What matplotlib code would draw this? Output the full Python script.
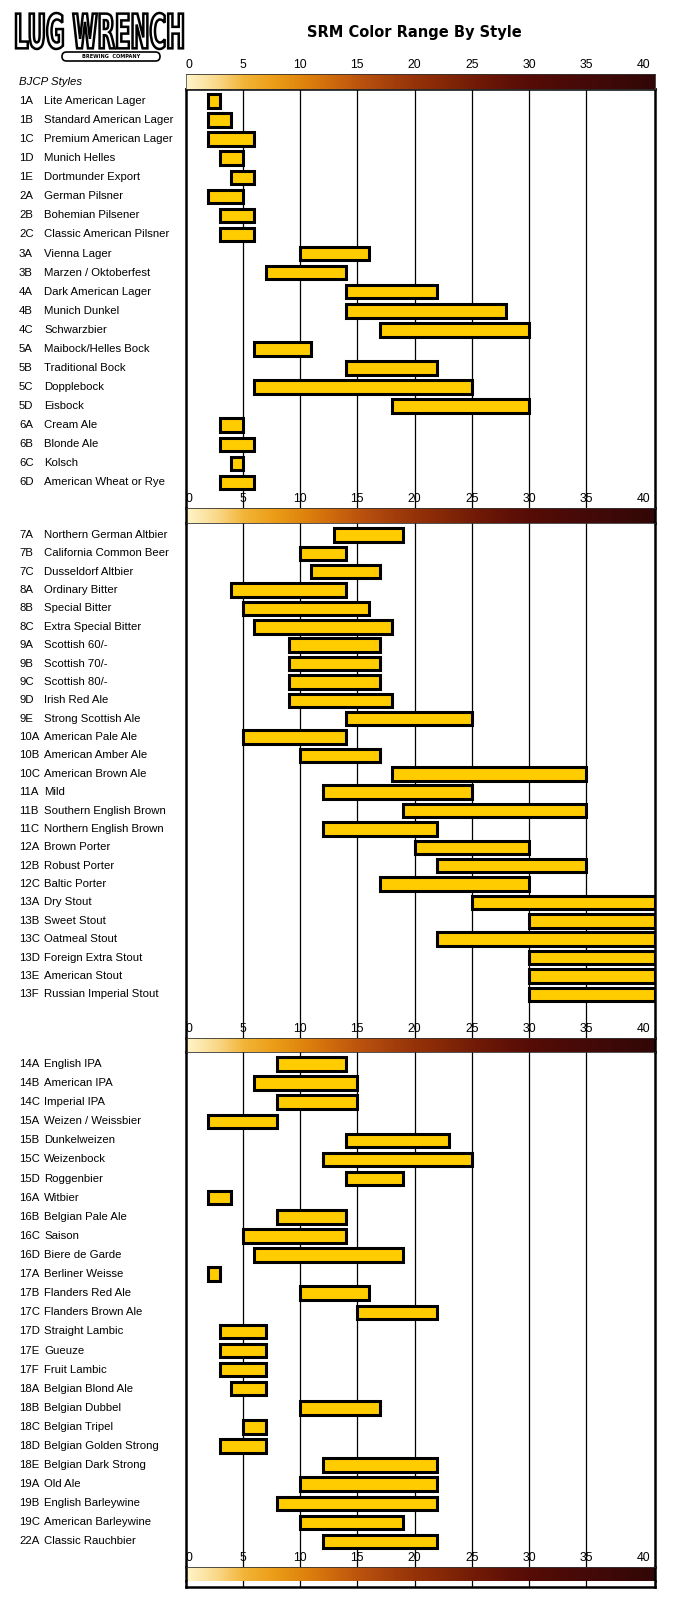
import numpy as np
import matplotlib
matplotlib.use("Agg")
import matplotlib.pyplot as plt
from matplotlib import font_manager
from matplotlib.colors import LinearSegmentedColormap
from matplotlib.textpath import TextPath
from matplotlib.patches import PathPatch, FancyBboxPatch
from matplotlib.font_manager import FontProperties
import matplotlib.transforms as mtransforms

# ---- data: BJCP style codes, names and SRM ranges, one block per panel ----
codes1 = ["1A", "1B", "1C", "1D", "1E", "2A", "2B", "2C", "3A", "3B", "4A",
          "4B", "4C", "5A", "5B", "5C", "5D", "6A", "6B", "6C", "6D"]
names1 = ["Lite American Lager", "Standard American Lager", "Premium American Lager",
          "Munich Helles", "Dortmunder Export", "German Pilsner", "Bohemian Pilsener",
          "Classic American Pilsner", "Vienna Lager", "Marzen / Oktoberfest",
          "Dark American Lager", "Munich Dunkel", "Schwarzbier", "Maibock/Helles Bock",
          "Traditional Bock", "Dopplebock", "Eisbock", "Cream Ale", "Blonde Ale",
          "Kolsch", "American Wheat or Rye"]
low1 = [2, 2, 2, 3, 4, 2, 3, 3, 10, 7, 14, 14, 17, 6, 14, 6, 18, 3, 3, 4, 3]
high1 = [3, 4, 6, 5, 6, 5, 6, 6, 16, 14, 22, 28, 30, 11, 22, 25, 30, 5, 6, 5, 6]

codes2 = ["7A", "7B", "7C", "8A", "8B", "8C", "9A", "9B", "9C", "9D", "9E",
          "10A", "10B", "10C", "11A", "11B", "11C", "12A", "12B", "12C",
          "13A", "13B", "13C", "13D", "13E", "13F"]
names2 = ["Northern German Altbier", "California Common Beer", "Dusseldorf Altbier",
          "Ordinary Bitter", "Special Bitter", "Extra Special Bitter", "Scottish 60/-",
          "Scottish 70/-", "Scottish 80/-", "Irish Red Ale", "Strong Scottish Ale",
          "American Pale Ale", "American Amber Ale", "American Brown Ale", "Mild",
          "Southern English Brown", "Northern English Brown", "Brown Porter",
          "Robust Porter", "Baltic Porter", "Dry Stout", "Sweet Stout", "Oatmeal Stout",
          "Foreign Extra Stout", "American Stout", "Russian Imperial Stout"]
low2 = [13, 10, 11, 4, 5, 6, 9, 9, 9, 9, 14, 5, 10, 18, 12, 19, 12, 20, 22, 17,
        25, 30, 22, 30, 30, 30]
high2 = [19, 14, 17, 14, 16, 18, 17, 17, 17, 18, 25, 14, 17, 35, 25, 35, 22, 30, 35, 30,
         41, 41, 41, 41, 41, 41]

codes3 = ["14A", "14B", "14C", "15A", "15B", "15C", "15D", "16A", "16B", "16C", "16D",
          "17A", "17B", "17C", "17D", "17E", "17F", "18A", "18B", "18C", "18D", "18E",
          "19A", "19B", "19C", "22A"]
names3 = ["English IPA", "American IPA", "Imperial IPA", "Weizen / Weissbier",
          "Dunkelweizen", "Weizenbock", "Roggenbier", "Witbier", "Belgian Pale Ale",
          "Saison", "Biere de Garde", "Berliner Weisse", "Flanders Red Ale",
          "Flanders Brown Ale", "Straight Lambic", "Gueuze", "Fruit Lambic",
          "Belgian Blond Ale", "Belgian Dubbel", "Belgian Tripel", "Belgian Golden Strong",
          "Belgian Dark Strong", "Old Ale", "English Barleywine", "American Barleywine",
          "Classic Rauchbier"]
low3 = [8, 6, 8, 2, 14, 12, 14, 2, 8, 5, 6, 2, 10, 15, 3, 3, 3, 4, 10, 5, 3, 12,
        10, 8, 10, 12]
high3 = [14, 15, 15, 8, 23, 25, 19, 4, 14, 14, 19, 3, 16, 22, 7, 7, 7, 7, 17, 7, 7, 22,
         22, 22, 19, 22]

srm_ticks = [0, 5, 10, 15, 20, 25, 30, 35, 40]

# ---- layout (pixels) ----
W, H = 677, 1600
X_LEFT, X_RIGHT = 185.5, 655.0
SRM_MAX = 41
BAR_COLOR = "#FFCC00"

installed = {f.name for f in font_manager.fontManager.ttflist}
NARROW = "Liberation Sans Narrow" if "Liberation Sans Narrow" in installed else "Liberation Sans"
LABEL_FONT = "Liberation Sans"

srm_cmap = LinearSegmentedColormap.from_list("srm", [
    (0 / 41, "#FFF4C8"), (2.5 / 41, "#FADA8C"), (5 / 41, "#F2B438"),
    (7.5 / 41, "#EC9E18"), (10 / 41, "#E0860E"), (12.5 / 41, "#D06C0C"),
    (15 / 41, "#BC540E"), (17.5 / 41, "#A8420C"), (20 / 41, "#953208"),
    (22.5 / 41, "#852806"), (25 / 41, "#731C06"), (27.5 / 41, "#641306"),
    (30 / 41, "#560C06"), (35 / 41, "#440A08"), (41 / 41, "#320707")])


def rect(x0, y0, x1, y1):
    return [x0 / W, 1 - y1 / H, (x1 - x0) / W, (y1 - y0) / H]


fig = plt.figure(figsize=(W / 100, H / 100), dpi=100)


def gradient(top, bottom, first=False):
    ax = fig.add_axes(rect(X_LEFT, top, X_RIGHT, bottom))
    ax.imshow(np.linspace(0, 1, 400)[None, :], cmap=srm_cmap, aspect="auto",
              extent=(0, SRM_MAX, 0, 1), interpolation="bilinear")
    ax.set_xlim(0, SRM_MAX)
    ax.set_ylim(0, 1)
    ax.set_yticks([])
    ax.xaxis.tick_top()
    ax.set_xticks(srm_ticks)
    ax.set_xticklabels([str(t) for t in srm_ticks], fontsize=8.8, family=NARROW)
    ax.tick_params(axis="x", length=0, pad=2)
    ax.get_xticklabels()[0].set_horizontalalignment("left")
    for s in ["top", "bottom"]:
        ax.spines[s].set_linewidth(0.6)
        ax.spines[s].set_color("#333333")
    for s in ["left", "right"]:
        ax.spines[s].set_linewidth(0.6 if first else 1.8)
        ax.spines[s].set_color("#555555" if first else "black")
    return ax


def panel(top, bottom, first_center, pitch, codes, names, low, high, top_border=False):
    ax = fig.add_axes(rect(X_LEFT, top, X_RIGHT, bottom))
    rows = np.arange(len(codes))
    ax.set_xlim(0, SRM_MAX)
    ax.set_ylim((bottom - first_center) / pitch, -(first_center - top) / pitch)
    for v in srm_ticks[1:-1]:
        ax.axvline(v, color="black", lw=0.9, zorder=0)
    bar_h = 13.5 / pitch
    ax.barh(rows, np.array(high) - np.array(low), left=low, height=bar_h,
            color=BAR_COLOR, edgecolor="black", linewidth=2.2, zorder=2)
    ax.set_xticks([])
    ax.set_yticks([])
    for s in ["left", "right"]:
        ax.spines[s].set_linewidth(1.8)
    ax.spines["top"].set_visible(top_border)
    ax.spines["top"].set_linewidth(1.8)
    ax.spines["bottom"].set_visible(False)
    trans = mtransforms.blended_transform_factory(fig.transFigure, ax.transData)
    for r, c, n in zip(rows, codes, names):
        ax.text(19 / W, r, c, transform=trans, fontsize=8.2, family=LABEL_FONT,
                va="center", ha="left")
        ax.text(44 / W, r, n, transform=trans, fontsize=8.2, family=LABEL_FONT,
                va="center", ha="left")
    return ax


panel(89, 508, 101, 19.07, codes1, names1, low1, high1, top_border=True)
panel(523, 1038, 535, 18.37, codes2, names2, low2, high2)
panel(1052, 1567, 1064, 19.1, codes3, names3, low3, high3)

gradient(74, 89, first=True)
gradient(508, 523)
gradient(1038, 1052)
gradient(1567, 1581)

# closing strip under the last colour scale
end = fig.add_axes(rect(X_LEFT, 1581, X_RIGHT, 1586.5))
end.set_xlim(0, SRM_MAX)
for v in srm_ticks[1:-1]:
    end.axvline(v, color="black", lw=0.9)
end.set_xticks([])
end.set_yticks([])
end.spines["top"].set_visible(False)
for s in ["left", "right", "bottom"]:
    end.spines[s].set_linewidth(1.8)

fig.text(19 / W, 1 - 82 / H, "BJCP Styles", fontsize=8.2, style="italic",
         family=LABEL_FONT, va="center", ha="left")

fig.text(414 / W, 1 - 32 / H, "SRM Color Range By Style", fontsize=10.5,
         weight="bold", family="DejaVu Sans", va="center", ha="center")

# logo
lax = fig.add_axes(rect(12, 8, 186, 64))
lax.set_xlim(0, 174)
lax.set_ylim(0, 56)
lax.axis("off")
tp = TextPath((0, 0), "LUG WRENCH", size=10,
              prop=FontProperties(family="DejaVu Sans", weight="bold"))
bb = tp.get_extents()
logo_path = mtransforms.Affine2D().translate(-bb.x0, -bb.y0).scale(
    167 / bb.width, 36 / bb.height).translate(4, 15).transform_path(tp)
lax.add_patch(PathPatch(logo_path, facecolor="white", edgecolor="black", lw=1.8))
lax.add_patch(FancyBboxPatch((50, 3), 98, 9, boxstyle="round,pad=0,rounding_size=4.5",
                             facecolor="white", edgecolor="black", lw=1.2))
lax.text(99, 7.5, "BREWING  COMPANY", fontsize=3.6, weight="bold",
         family="DejaVu Sans", ha="center", va="center")

fig.savefig("out.png", dpi=100, facecolor="white")
